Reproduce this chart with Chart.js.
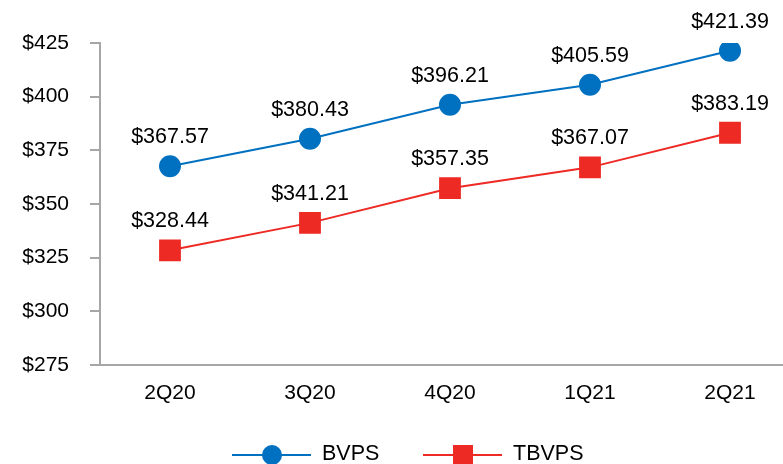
<!DOCTYPE html>
<html>
<head>
<meta charset="utf-8">
<script src="https://cdn.jsdelivr.net/npm/chart.js@4.4.0/dist/chart.umd.min.js"></script>
<style>
  html, body { margin: 0; padding: 0; background: #fff; overflow: hidden; }
  #wrap { width: 783px; height: 464px; overflow: hidden; }
</style>
</head>
<body>
<div id="wrap"><canvas id="chart" width="800" height="464"></canvas></div>
<script>
const quarters = ['2Q20', '3Q20', '4Q20', '1Q21', '2Q21'];
const bvps = [367.57, 380.43, 396.21, 405.59, 421.39];
const tbvps = [328.44, 341.21, 357.35, 367.07, 383.19];
const yTicks = [275, 300, 325, 350, 375, 400, 425];

const FONT = "'Liberation Sans', Arial, sans-serif";

// labels above each point
const pointLabels = {
  id: 'pointLabels',
  afterDatasetsDraw(chart) {
    const ctx = chart.ctx;
    ctx.save();
    ctx.font = '21.5px ' + FONT;
    ctx.fillStyle = '#000';
    ctx.textAlign = 'center';
    ctx.textBaseline = 'middle';
    chart.data.datasets.forEach((ds, i) => {
      chart.getDatasetMeta(i).data.forEach((pt, j) => {
        ctx.fillText('$' + ds.data[j].toFixed(2), pt.x, pt.y - 29);
      });
    });
    ctx.restore();
  }
};

// legend with line through marker, like the original
const lineLegend = {
  id: 'lineLegend',
  afterDraw(chart) {
    const ctx = chart.ctx;
    const y = 455;
    const starts = [232, 423];
    ctx.save();
    ctx.font = '21.5px ' + FONT;
    ctx.textBaseline = 'middle';
    chart.data.datasets.forEach((ds, i) => {
      const x = starts[i];
      ctx.strokeStyle = ds.borderColor;
      ctx.lineWidth = 2;
      ctx.beginPath();
      ctx.moveTo(x, y);
      ctx.lineTo(x + 79, y);
      ctx.stroke();
      ctx.fillStyle = ds.backgroundColor;
      if (ds.pointStyle === 'rect') {
        ctx.fillRect(x + 30, y - 10, 20, 20);
      } else {
        ctx.beginPath();
        ctx.arc(x + 40, y, 10, 0, Math.PI * 2);
        ctx.fill();
      }
      ctx.fillStyle = '#000';
      ctx.fillText(ds.label, x + 90, y - 1);
    });
    ctx.restore();
  }
};

new Chart(document.getElementById('chart'), {
  type: 'line',
  data: {
    labels: quarters,
    datasets: [
      {
        label: 'BVPS',
        data: bvps,
        borderColor: '#0070C0',
        backgroundColor: '#0070C0',
        borderWidth: 2,
        pointStyle: 'circle',
        pointRadius: 10,
        pointHoverRadius: 10
      },
      {
        label: 'TBVPS',
        data: tbvps,
        borderColor: '#EE2A24',
        backgroundColor: '#EE2A24',
        borderWidth: 2,
        pointStyle: 'rect',
        pointRadius: 14,
        pointHoverRadius: 14
      }
    ]
  },
  options: {
    responsive: false,
    animation: false,
    events: [],
    layout: { autoPadding: false, padding: { top: 43, left: 0, right: 0, bottom: 0 } },
    plugins: { legend: { display: false }, tooltip: { enabled: false } },
    scales: {
      x: {
        offset: true,
        grid: { display: true, drawOnChartArea: false, drawTicks: false },
        border: { display: true, color: '#A6A6A6', width: 2 },
        ticks: { color: '#000', font: { family: FONT, size: 21 }, padding: 16 },
        afterFit(scale) { scale.height = 99; }
      },
      y: {
        min: 275,
        max: 425,
        afterBuildTicks(scale) { scale.ticks = yTicks.map(v => ({ value: v })); },
        grid: { display: true, drawOnChartArea: false, tickLength: 10, color: '#A6A6A6', lineWidth: 2 },
        border: { display: true, color: '#A6A6A6', width: 2 },
        ticks: { color: '#000', font: { family: FONT, size: 21 }, padding: 21, callback: v => '$' + v },
        afterFit(scale) { scale.width = 100; }
      }
    }
  },
  plugins: [pointLabels, lineLegend]
});
</script>
</body>
</html>
